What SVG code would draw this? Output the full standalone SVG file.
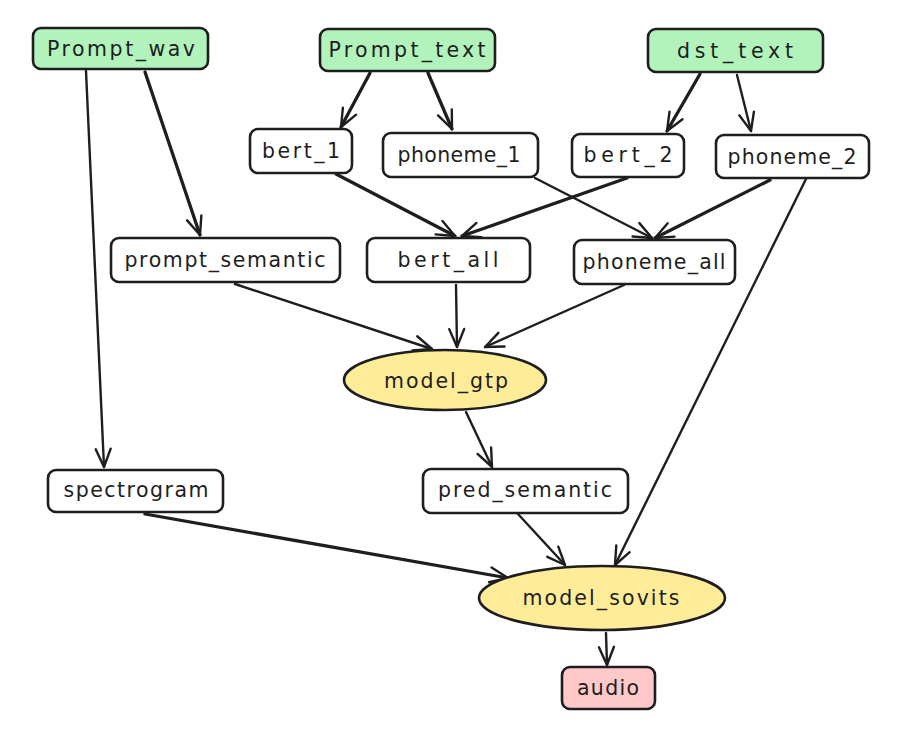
<svg xmlns="http://www.w3.org/2000/svg" width="904" height="739" viewBox="0 0 904 739">
<defs>
<marker id="arr" markerUnits="userSpaceOnUse" markerWidth="30" markerHeight="30" refX="0" refY="0" viewBox="-20 -15 30 30" orient="auto" overflow="visible">
<path d="M-18,-7.5 L0,0 L-18,7.5" fill="none" stroke="#1e1e1e" stroke-width="2.4" stroke-linecap="round" stroke-linejoin="round"/>
</marker>
</defs>
<style>
.box{stroke:#1e1e1e;stroke-width:2.6;fill:#ffffff}
.in{fill:#b2f2bb}
.mdl{fill:#ffec99}
.out{fill:#ffc9c9}
text{font-family:"DejaVu Sans","Noto Sans",sans-serif;font-size:20.5px;fill:#1e1e1e;text-anchor:middle}
.e{stroke:#1e1e1e;stroke-width:2.4;fill:none;stroke-linecap:round;marker-end:url(#arr)}
.t{stroke-width:3.3}
</style>
<rect width="904" height="739" fill="#ffffff"/>
<g id="connectors">
<path class="e" d="M86,71 L104,467"/>
<path class="e t" d="M145,72 L200,235"/>
<path class="e t" d="M370,73 L341,127"/>
<path class="e t" d="M428,73 L452,129"/>
<path class="e t" d="M700,74 L667,131"/>
<path class="e" d="M737,75 L751,131"/>
<path class="e t" d="M336,174 L455,236"/>
<path class="e t" d="M627,178 L462,236"/>
<path class="e" d="M535,178 L652,238"/>
<path class="e t" d="M770,180 L655,238"/>
<path class="e" d="M806,179 L615,565"/>
<path class="e" d="M235,284 L432,349"/>
<path class="e" d="M456,285 L457,347"/>
<path class="e" d="M624,285 L485,347"/>
<path class="e" d="M466,412 L492,467"/>
<path class="e t" d="M145,514 L508,578"/>
<path class="e" d="M518,514 L565,565"/>
<path class="e" d="M606,633 L607,665"/>
</g>
<g id="Prompt_wav"><rect class="box in" x="33" y="28" width="175" height="41" rx="8"/><text x="121" y="55.5" textLength="148">Prompt_wav</text></g>
<g id="Prompt_text"><rect class="box in" x="320" y="29" width="175" height="42" rx="8"/><text x="407" y="56.5" textLength="157">Prompt_text</text></g>
<g id="dst_text"><rect class="box in" x="648" y="29" width="175" height="43" rx="8"/><text x="735" y="57.5" textLength="116">dst_text</text></g>
<g id="bert_1"><rect class="box" x="250" y="129" width="102" height="44" rx="8"/><text x="301" y="158" textLength="78">bert_1</text></g>
<g id="phoneme_1"><rect class="box" x="383" y="133" width="155" height="44" rx="8"/><text x="459" y="162" textLength="123">phoneme_1</text></g>
<g id="bert_2"><rect class="box" x="572" y="134" width="112" height="43" rx="8"/><text x="628" y="162" textLength="89">bert_2</text></g>
<g id="phoneme_2"><rect class="box" x="716" y="135" width="153" height="43" rx="8"/><text x="792" y="164" textLength="129">phoneme_2</text></g>
<g id="prompt_semantic"><rect class="box" x="111" y="238" width="229" height="44" rx="8"/><text x="225" y="267" textLength="201">prompt_semantic</text></g>
<g id="bert_all"><rect class="box" x="367" y="238" width="163" height="44" rx="8"/><text x="448" y="267" textLength="101">bert_all</text></g>
<g id="phoneme_all"><rect class="box" x="574" y="240" width="161" height="44" rx="8"/><text x="654" y="269" textLength="143">phoneme_all</text></g>
<g id="model_gtp"><ellipse class="box mdl" cx="445" cy="380" rx="101" ry="30"/><text x="446" y="388" textLength="124">model_gtp</text></g>
<g id="spectrogram"><rect class="box" x="48" y="470" width="175" height="42" rx="8"/><text x="136" y="497" textLength="145">spectrogram</text></g>
<g id="pred_semantic"><rect class="box" x="423" y="469" width="205" height="44" rx="8"/><text x="525" y="497" textLength="174">pred_semantic</text></g>
<g id="model_sovits"><ellipse class="box mdl" cx="602" cy="598" rx="123" ry="32"/><text x="601" y="605" textLength="157">model_sovits</text></g>
<g id="audio"><rect class="box out" x="562" y="667" width="93" height="42" rx="8"/><text x="608" y="695" textLength="62">audio</text></g>
</svg>
